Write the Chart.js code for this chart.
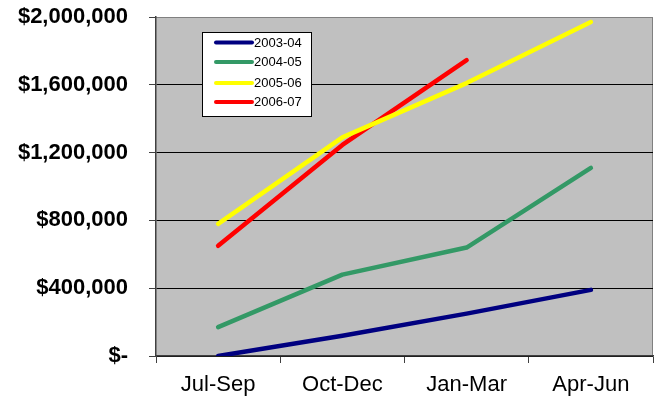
<!DOCTYPE html>
<html>
<head>
<meta charset="utf-8">
<script src="https://cdn.jsdelivr.net/npm/chart.js@4/dist/chart.umd.min.js"></script>
<style>
html,body{margin:0;padding:0;background:#fff;}
#wrap{width:659px;height:407px;position:relative;}
</style>
</head>
<body>
<div id="wrap"><canvas id="c" width="659" height="407"></canvas></div>
<script>
const categories = ['Jul-Sep', 'Oct-Dec', 'Jan-Mar', 'Apr-Jun'];
const seriesNames = ['2003-04', '2004-05', '2005-06', '2006-07'];
const s2003 = [0, 120000, 250000, 390000];
const s2004 = [170000, 480000, 640000, 1110000];
const s2005 = [780000, 1290000, 1610000, 1970000];
const s2006 = [650000, 1245000, 1745000, null];
const yTickValues = [0, 400000, 800000, 1200000, 1600000, 2000000];
const yTickLabels = ['$-', '$400,000', '$800,000', '$1,200,000', '$1,600,000', '$2,000,000'];
const colors = ['#000080', '#339966', '#FFFF00', '#FF0000'];

const FONT = '"Liberation Sans", Arial, sans-serif';

const bgPlugin = {
  id: 'bg',
  beforeDraw(chart) {
    const a = chart.chartArea, ctx = chart.ctx;
    ctx.save();
    ctx.fillStyle = '#C0C0C0';
    ctx.fillRect(a.left, a.top, a.right - a.left, a.bottom - a.top);
    ctx.strokeStyle = '#808080';
    ctx.lineWidth = 1;
    ctx.beginPath();
    ctx.moveTo(a.left, a.top + 0.5);
    ctx.lineTo(a.right - 0.5, a.top + 0.5);
    ctx.lineTo(a.right - 0.5, a.bottom);
    ctx.stroke();
    ctx.restore();
  }
};

const legendPlugin = {
  id: 'boxLegend',
  afterDatasetsDraw(chart) {
    const ctx = chart.ctx;
    const x0 = 202, y0 = 32, w = 110, h = 85;
    ctx.save();
    ctx.fillStyle = '#FFFFFF';
    ctx.fillRect(x0, y0, w, h);
    ctx.strokeStyle = '#000000';
    ctx.lineWidth = 1;
    ctx.strokeRect(x0 + 0.5, y0 + 0.5, w - 1, h - 1);
    const ys = [42.5, 62, 83, 102];
    ctx.font = '13px ' + FONT;
    ctx.textBaseline = 'middle';
    ctx.textAlign = 'left';
    chart.data.datasets.forEach((ds, i) => {
      ctx.strokeStyle = ds.borderColor;
      ctx.lineWidth = 4;
      ctx.lineCap = 'round';
      ctx.beginPath();
      ctx.moveTo(216, ys[i]);
      ctx.lineTo(252, ys[i]);
      ctx.stroke();
      ctx.fillStyle = '#000';
      ctx.fillText(ds.label, 254, ys[i] + 0.5);
    });
    ctx.restore();
  }
};

const seriesData = [s2003, s2004, s2005, s2006];

new Chart(document.getElementById('c'), {
  type: 'line',
  data: {
    labels: categories,
    datasets: seriesData.map((d, i) => ({
      label: seriesNames[i],
      data: d,
      borderColor: colors[i],
      backgroundColor: colors[i],
      borderWidth: 4.5,
      pointRadius: 0,
      tension: 0,
      borderCapStyle: 'round',
      borderJoinStyle: 'round',
      spanGaps: false
    }))
  },
  options: {
    responsive: false,
    animation: false,
    layout: { padding: { left: 0, right: 6, top: 17, bottom: 0 } },
    plugins: { legend: { display: false }, tooltip: { enabled: false } },
    scales: {
      x: {
        offset: true,
        grid: {
          display: true,
          drawOnChartArea: false,
          drawTicks: true,
          tickLength: 7,
          color: '#404040',
          offset: true
        },
        border: { color: '#404040', width: 1.5 },
        ticks: {
          font: { family: FONT, size: 22 },
          color: '#000',
          padding: 9,
          maxRotation: 0
        },
        afterFit(s) { s.height = 51; s.paddingLeft = 0; s.paddingRight = 0; }
      },
      y: {
        min: 0,
        max: 2000000,
        afterBuildTicks(s) { s.ticks = yTickValues.map(v => ({ value: v })); },
        grid: {
          color: (c) => (c.tick && c.tick.value === 2000000) ? '#808080' : '#000000',
          lineWidth: 1,
          tickLength: 7,
          tickColor: '#404040'
        },
        border: { color: '#404040', width: 1.5 },
        ticks: {
          font: { family: FONT, size: 22, weight: 'bold' },
          color: '#000',
          padding: 21,
          callback: (v) => yTickLabels[yTickValues.indexOf(v)]
        },
        afterFit(s) { s.width = 156; s.paddingTop = 0; s.paddingBottom = 0; }
      }
    }
  },
  plugins: [bgPlugin, legendPlugin]
});
</script>
</body>
</html>
